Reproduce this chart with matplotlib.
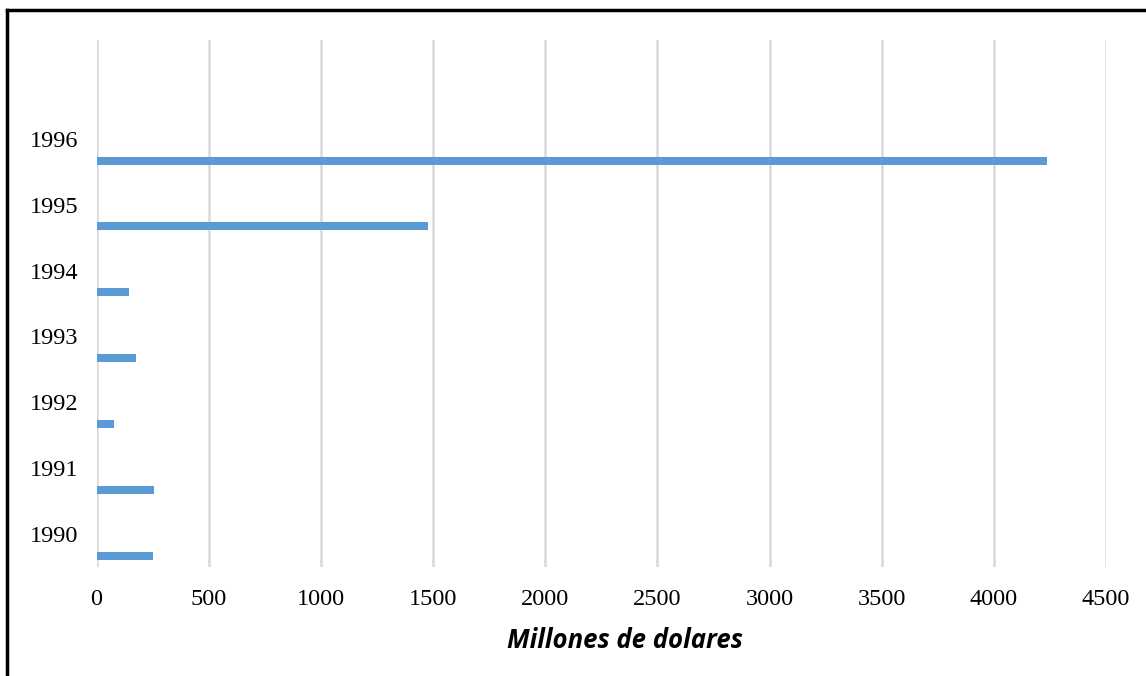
import matplotlib.pyplot as plt
from matplotlib.lines import Line2D

years = ["1990", "1991", "1992", "1993", "1994", "1995", "1996"]
values = [253, 258, 79, 175, 143, 1477, 4236]
x_ticks = [0, 500, 1000, 1500, 2000, 2500, 3000, 3500, 4000, 4500]

fig = plt.figure(figsize=(11.46, 6.76), dpi=100)
ax = fig.add_axes([96.5 / 1146, 109 / 676, (1106 - 96.5) / 1146, 527 / 676])

pos = list(range(len(years)))
# bars sit low in each category band, labels at band centre
ax.barh([p - 0.33 for p in pos], values, height=0.12, color="#5b9bd5", zorder=3)

ax.set_xlim(0, 4500)
ax.set_ylim(-0.5, 7.5)
ax.set_xticks(x_ticks)
ax.set_yticks(pos)
ax.set_yticklabels(years)
ax.grid(axis="x", color="#d9d9d9", linewidth=1.8, zorder=0)
for s in ax.spines.values():
    s.set_visible(False)
ax.tick_params(length=0, labelsize=17.5, pad=16)
ax.tick_params(axis="y", pad=13)
for lab in ax.get_xticklabels() + ax.get_yticklabels():
    lab.set_fontfamily("Liberation Serif")

ax.set_xlabel("Millones de dolares", fontsize=18.5, fontweight="bold", fontstyle="italic",
              fontfamily="Open Sans")
ax.xaxis.set_label_coords((625 - 96.5) / 1009.5, -(641 - 567) / 527, transform=ax.transAxes)
ax.xaxis.label.set_va("center")

# frame around the chart (top and left edges visible)
fig.add_artist(Line2D([7 / 1146, 1.01], [1 - 10 / 676, 1 - 10 / 676], color="black", linewidth=2.5,
                      transform=fig.transFigure))
fig.add_artist(Line2D([7 / 1146, 7 / 1146], [-0.01, 1 - 10 / 676], color="black", linewidth=2.5,
                      transform=fig.transFigure))

fig.savefig("out.png", dpi=100)
